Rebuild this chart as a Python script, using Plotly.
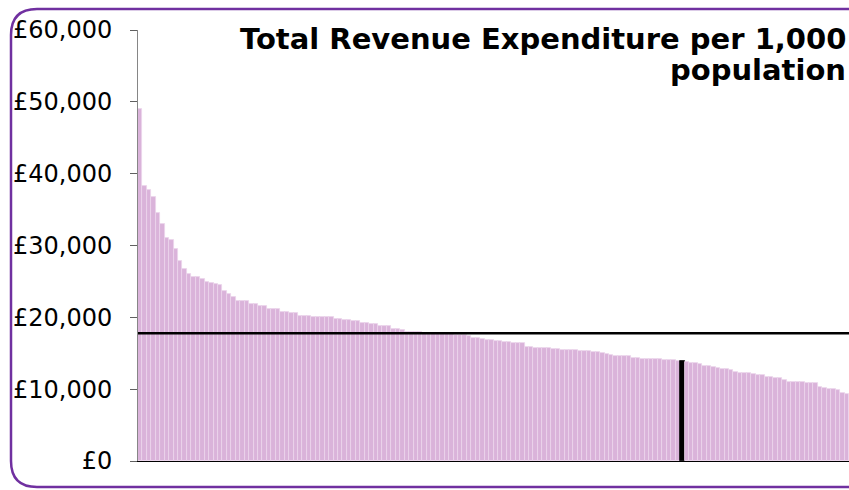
import plotly.graph_objects as go

# ---- data (values in £ per 1,000 population, sorted descending) ----
values_k = [
    49.0, 38.3, 37.7, 36.7, 34.5, 33.0, 31.1, 30.8, 29.5, 27.8,
    26.7, 26.1, 25.6, 25.6, 25.4, 24.9, 24.8, 24.6, 24.5, 23.7,
    23.2, 22.9, 22.3, 22.3, 22.3, 21.9, 21.9, 21.6, 21.6, 21.1,
    21.1, 21.1, 20.8, 20.8, 20.6, 20.6, 20.2, 20.2, 20.2, 20.0,
    20.0, 20.0, 20.0, 20.0, 19.8, 19.8, 19.6, 19.6, 19.45, 19.45,
    19.25, 19.25, 19.07, 19.07, 18.8, 18.8, 18.8, 18.33, 18.33, 18.2,
    18.0, 18.0, 17.9, 17.9, 17.85, 17.75, 17.72, 17.7, 17.68, 17.65,
    17.62, 17.6, 17.55, 17.5, 17.45, 17.17, 17.17, 16.94, 16.85, 16.85,
    16.7, 16.7, 16.57, 16.57, 16.43, 16.43, 16.43, 15.87, 15.87, 15.73,
    15.73, 15.73, 15.73, 15.6, 15.6, 15.45, 15.45, 15.45, 15.45, 15.3,
    15.3, 15.3, 15.17, 15.17, 15.0, 14.85, 14.7, 14.6, 14.6, 14.6,
    14.6, 14.34, 14.34, 14.2, 14.2, 14.2, 14.2, 14.2, 14.06, 14.06,
    14.06, 13.9, 13.87, 13.78, 13.64, 13.64, 13.46, 13.27, 13.27, 13.08,
    12.95, 12.8, 12.8, 12.62, 12.39, 12.25, 12.25, 12.25, 12.1, 11.97,
    11.97, 11.74, 11.74, 11.55, 11.55, 11.23, 11.0, 11.0, 11.0, 11.0,
    10.86, 10.86, 10.86, 10.3, 10.12, 10.02, 10.02, 9.88, 9.47, 9.33,
]
values = [v * 1000 for v in values_k]
authorities = list(range(len(values)))
highlight_index = 122
average_value = 17780

y_ticks = [0, 10000, 20000, 30000, 40000, 50000, 60000]
y_tick_labels = ["£0", "£10,000", "£20,000", "£30,000", "£40,000", "£50,000", "£60,000"]

title_line1 = "Total Revenue Expenditure per 1,000"
title_line2 = "population"

# ---- styling ----
bar_fill = "#DAB3DA"
bar_edge = "#EBD4EB"
colors = ["#000000" if i == highlight_index else bar_fill for i in authorities]
edge_colors = ["#000000" if i == highlight_index else bar_edge for i in authorities]

W, H = 849, 490
L, R, T, B = 138, 0, 30, 29
pw, ph = W - L - R, H - T - B

fig = go.Figure()
fig.add_trace(go.Bar(
    x=authorities, y=values,
    marker=dict(color=colors, line=dict(color=edge_colors, width=0.8)),
    hoverinfo="skip", showlegend=False,
))

# average line
fig.add_shape(type="line", xref="paper", yref="y", x0=0, x1=1,
              y0=average_value, y1=average_value,
              line=dict(color="#000000", width=2.5), layer="above")

# rounded purple frame (pixel positions converted to paper coords)
def px(xpix):
    return (xpix - L) / pw

def py(ypix):
    return (H - B - ypix) / ph

left, top, bottom, right = 11, 9, 487, 920
r = 26
path = (
    f"M {px(left + r)},{py(top)} L {px(right)},{py(top)} "
    f"L {px(right)},{py(bottom)} L {px(left + r)},{py(bottom)} "
    f"Q {px(left)},{py(bottom)} {px(left)},{py(bottom - r)} "
    f"L {px(left)},{py(top + r)} "
    f"Q {px(left)},{py(top)} {px(left + r)},{py(top)} Z"
)
fig.add_shape(type="path", xref="paper", yref="paper", path=path,
              line=dict(color="#7030A0", width=2.5), fillcolor="rgba(0,0,0,0)",
              layer="above")

title_font = dict(family="DejaVu Sans", size=29, color="#000000")
fig.add_annotation(
    text=f"<b>{title_line1}</b>",
    xref="paper", yref="paper", x=px(848), y=py(39),
    xanchor="right", yanchor="middle", align="right", showarrow=False,
    font=title_font,
)
fig.add_annotation(
    text=f"<b>{title_line2}</b>",
    xref="paper", yref="paper", x=px(848), y=py(70),
    xanchor="right", yanchor="middle", align="right", showarrow=False,
    font=title_font,
)

fig.update_layout(
    width=W, height=H,
    margin=dict(l=L, r=R, t=T, b=B, pad=0),
    paper_bgcolor="white", plot_bgcolor="white",
    bargap=0,
    font=dict(family="DejaVu Sans", color="#000000"),
    xaxis=dict(range=[-0.5, len(values) - 0.5], showticklabels=False,
               ticks="", showgrid=False, zeroline=False,
               showline=True, linecolor="#000000", linewidth=1),
    yaxis=dict(range=[0, 60000], tickvals=y_ticks, ticktext=y_tick_labels,
               ticks="outside", ticklen=7, tickcolor="#606060", tickwidth=1,
               showgrid=False, zeroline=False,
               showline=True, linecolor="#868686", linewidth=1,
               tickfont=dict(family="DejaVu Sans", size=24, color="#000000"),
               ticklabelstandoff=13),
)

fig.write_html("out.html", config={"displayModeBar": False},
               post_script="document.body.style.margin='0';")
